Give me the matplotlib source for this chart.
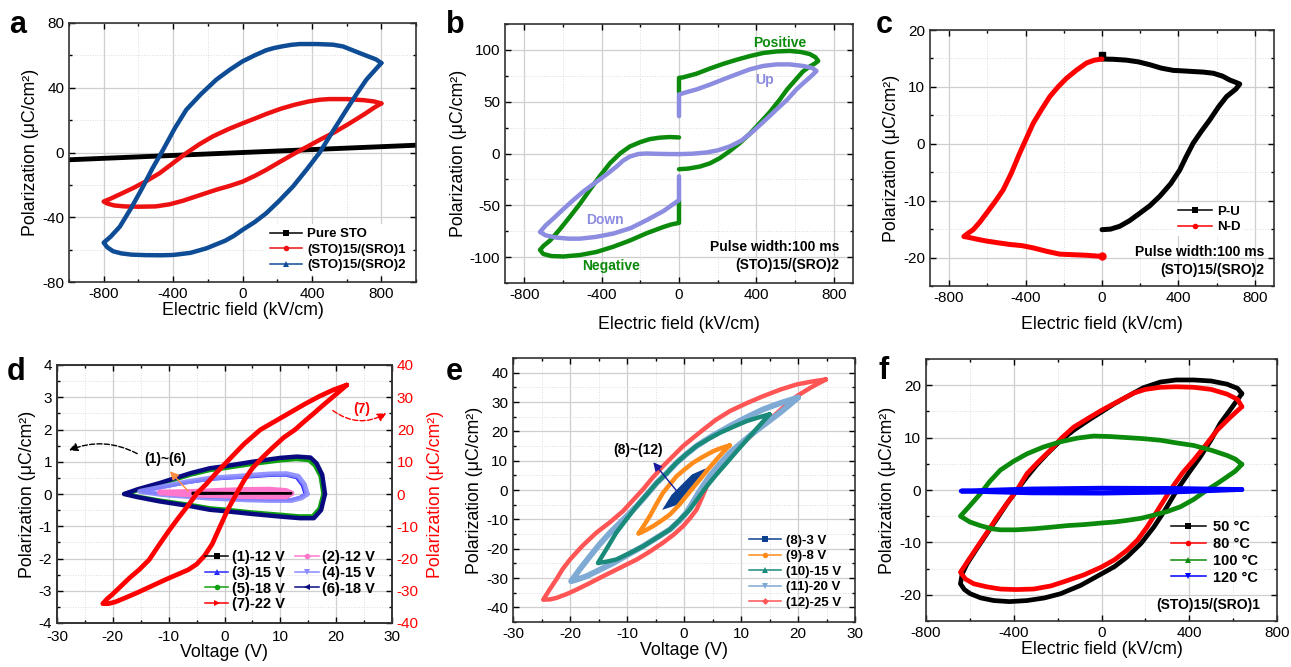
import matplotlib
matplotlib.use("Agg")
import matplotlib.pyplot as plt
from matplotlib.ticker import MultipleLocator
from matplotlib.lines import Line2D
from matplotlib.patches import FancyArrowPatch

plt.rcParams['font.family'] = ['Liberation Sans', 'DejaVu Sans']
plt.rcParams['axes.unicode_minus'] = False

# ---------------- data ----------------
# panel a
A_STO_E = [-1000, 1000]
A_STO_P = [-4.5, 4.5]
A_SRO1_E = [800, 760, 700, 600, 500, 445, 380, 300, 220, 137, 60, 0, -80, -170, -250, -324, -400, -478, -560, -631, -700, -760, -800,
            -780, -740, -680, -600, -500, -420, -343, -250, -151, -70, 0, 70, 137, 220, 310, 380, 445, 530, 617, 700, 760, 800]
A_SRO1_P = [30.3, 31.5, 32.3, 33, 33, 32.6, 31.5, 29.5, 27, 23.8, 20.5, 18, 14.5, 10, 5, -0.4, -6.5, -12.8, -18, -22, -25.5, -28.5, -30.3,
            -31.5, -32.7, -33.3, -33.5, -33.3, -32, -29.8, -26.5, -23, -20.5, -18, -14.5, -10.7, -5.5, 0, 4, 7.8, 12.5, 18, 23.5, 27.8, 30.3]
A_SRO2_E = [800, 770, 714, 650, 580, 522, 430, 330, 280, 230, 180, 137, 70, 0, -75, -151, -240, -324, -390, -458, -520, -573, -640, -707, -760, -800,
            -780, -746, -700, -640, -560, -470, -400, -300, -208, -100, -50, 0, 70, 137, 210, 291, 370, 445, 520, 599, 660, 714, 760, 800]
A_SRO2_P = [55.3, 57.5, 59.8, 62.5, 65.5, 66.6, 67, 67, 66.5, 65.6, 64.5, 63.2, 60, 56.3, 51, 45, 36, 26.4, 15, 1.6, -10, -21, -34, -45.8, -52, -55.7,
            -58.5, -61, -62.3, -63.1, -63.4, -63.5, -63.3, -62, -59.2, -54.5, -51.5, -47.8, -43, -37.5, -30, -21, -10.5, 0, 13, 26.4, 36.5, 45, 50.5, 55.3]
A_LABELS = ['Pure STO', '(STO)15/(SRO)1', '(STO)15/(SRO)2']

# panel b
B_POS_E = [0, 0, 21, 90, 160, 228, 298, 366, 435, 504, 573, 630, 676, 705, 720,
           700, 676, 640, 607, 560, 521, 470, 418, 366, 314, 260, 211, 160, 108, 50, 0]
B_POS_P = [59, 73, 73.5, 77, 82, 86.5, 90.5, 94, 97, 98.5, 99, 98, 96, 93, 89.3,
           86.5, 84, 79, 72, 62, 52, 40, 29.4, 19, 10, 2, -4.5, -9.5, -12.6, -14.5, -15.2]
B_NEG_E = [0, 0, -40, -82, -168, -254, -340, -426, -512, -599, -660, -702, -719,
           -700, -667, -620, -564, -510, -461, -410, -357, -305, -254, -200, -151, -100, -47, 0]
B_NEG_P = [-45, -67, -68.5, -71, -77, -84, -90, -95, -98, -99.4, -99, -97, -93,
           -89, -84, -74, -61, -48, -35, -22, -9.4, 0, 6.8, 11, 13.9, 15.3, 15.9, 15.5]
B_UP_E = [0, 0, 45, 90, 160, 228, 298, 366, 435, 504, 573, 642, 690, 711,
          680, 640, 607, 560, 504, 445, 383, 323, 263, 200, 142, 70, 0]
B_UP_P = [36, 57, 59.5, 61.8, 66.5, 71.5, 76.5, 81.2, 84.5, 86, 86, 84.5, 82.5, 79.6,
          74, 67.5, 61.8, 52, 42.4, 32, 21.4, 12.5, 6.8, 3, 1, -0.2, -0.6]
B_DOWN_E = [0, -60, -116, -170, -210, -254, -290, -323, -370, -426, -490, -547, -600, -650, -690, -719,
            -690, -633, -570, -512, -430, -340, -250, -168, -80, 0, 0]
B_DOWN_P = [-0.6, -0.5, -0.3, 0, -0.5, -2.9, -7, -12.6, -19.5, -27.2, -36, -45, -54, -62.8, -69.5, -75.7,
            -79, -81.2, -82.2, -82.2, -80.5, -77.3, -72, -64.4, -55.5, -45, -22]

# panel c
C_PU_E = [0, 0, 60, 128, 190, 250, 310, 373, 430, 477, 530, 582, 630, 669, 700, 721,
          700, 652, 610, 564, 520, 477, 440, 407, 360, 303, 250, 198, 145, 93, 45, 0]
C_PU_P = [15.6, 14.9, 14.85, 14.7, 14.4, 13.9, 13.3, 12.9, 12.8, 12.7, 12.6, 12.4, 11.9, 11.2, 10.8, 10.5,
          9.6, 8.3, 6.5, 4.2, 2.2, 0.1, -2.3, -4.6, -7, -9.2, -10.9, -12.2, -13.5, -14.5, -15, -15.1]
C_ND_E = [0, -40, -81, -150, -221, -290, -360, -420, -482, -545, -604, -650, -691, -723,
          -700, -674, -640, -604, -560, -517, -475, -430, -395, -360, -315, -273, -230, -186, -135, -81, -40, 0]
C_ND_P = [-19.8, -19.7, -19.6, -19.5, -19.4, -18.9, -18.3, -17.9, -17.7, -17.4, -17.1, -16.8, -16.5, -16.3,
          -15.7, -15.1, -13.8, -12.2, -10.2, -8.1, -5.2, -1.6, 1, 3.6, 6.1, 8.3, 10, 11.5, 12.9, 14.2, 14.7, 14.9]

# panel d
D1_V = [-5.7, 12, -5.7]
D1_P = [0.04, 0.02, 0.0]
D2_V = [12, 11, 8, 4, 0, -4, -8, -11.6, -8, -4, 0, 4, 8, 11, 12]
D2_P = [0.02, 0.1, 0.14, 0.13, 0.11, 0.08, 0.06, 0.05, 0.0, -0.03, -0.05, -0.07, -0.08, -0.08, 0.02]
D3_V = [14.4, 13.9, 12.9, 11, 8, 4, 0, -2.6, -7, -11, -14.8, -11, -7, -2.6, 0, 4, 8, 11.8, 13.5, 14.4]
D3_P = [0, 0.27, 0.5, 0.58, 0.57, 0.52, 0.48, 0.45, 0.34, 0.21, 0.07, -0.01, -0.06, -0.11, -0.13, -0.16, -0.18, -0.18, -0.1, 0]
D4_V = [14.8, 14.3, 13.2, 11.1, 8, 4, 0, -2.6, -7, -11, -15.2, -11, -7, -2.6, 0, 4, 8, 12, 13.8, 14.8]
D4_P = [0, 0.3, 0.55, 0.63, 0.62, 0.57, 0.52, 0.49, 0.37, 0.23, 0.08, -0.02, -0.07, -0.13, -0.15, -0.18, -0.2, -0.2, -0.12, 0]
D5_V = [17.7, 17.2, 16.2, 15.1, 12.8, 10, 5, 0, -2.6, -6, -11.6, -15.3, -17.7, -15.3, -11.6, -6, -2.6, 0, 5, 10, 13.3, 15.8, 17, 17.7]
D5_P = [0, 0.55, 0.88, 1.05, 1.08, 1.04, 0.93, 0.8, 0.74, 0.6, 0.31, 0.13, 0, -0.09, -0.2, -0.34, -0.44, -0.48, -0.57, -0.64, -0.69, -0.69, -0.45, 0]
D6_V = [18, 17.5, 16.5, 15.4, 13, 10, 5, 0, -2.6, -6, -11.6, -15.5, -18, -15.5, -11.6, -6, -2.6, 0, 5, 10, 13.5, 16, 17.3, 18]
D6_P = [0, 0.6, 0.95, 1.13, 1.16, 1.12, 1.0, 0.86, 0.8, 0.65, 0.34, 0.15, 0, -0.1, -0.23, -0.38, -0.49, -0.53, -0.62, -0.7, -0.75, -0.75, -0.5, 0]
D7_V = [21.9, 19.5, 17, 14.5, 12, 9, 6.4, 3.5, 1, -1.5, -3.3, -4.9, -6.5, -8.3, -10, -11.8, -13.5, -15.3, -17, -18.5, -20, -21, -21.8,
        -20.8, -19.6, -17.5, -15.5, -13, -10.5, -8.5, -6.5, -5, -3.6, -2.2, -0.9, 0.6, 2.2, 3.6, 5, 6.9, 8.7, 10.6, 12.6, 14.3, 16, 17.5, 19, 20.5, 21.9]
D7_P = [33.8, 32.3, 30.3, 28, 25.5, 22.5, 19.9, 15.5, 11, 6.5, 3, 0.26, -3.5, -7.5, -11.5, -16, -20.4, -23.5, -26, -28.5, -31, -32.5, -34,
        -34, -33.5, -32, -30.5, -28.5, -26.5, -25, -23.5, -21.8, -19.2, -15.5, -10.5, -4.8, 0.26, 4.5, 8, 11.5, 14.5, 17.5, 19.9, 22.5, 25, 27.3, 29.5, 31.7, 33.8]
D_LABELS = ['(1)-12 V', '(2)-12 V', '(3)-15 V', '(4)-15 V', '(5)-18 V', '(6)-18 V', '(7)-22 V']

# panel e
E8_V = [3, 1.6, -0.15, -1.9, -3, -1.3, 0.4, 2.2, 3]
E8_P = [5.9, 4.7, 1.3, -2.1, -5.5, -4.4, -1, 3, 5.9]
E9_V = [8, 6.5, 5.1, 3.3, 1.6, 0.1, -1.3, -2.5, -3.7, -4.9, -6, -7, -8,
        -6.8, -5.4, -4, -2.5, -1, 0.4, 1.6, 2.8, 4.2, 5.7, 6.9, 8]
E9_P = [15.2, 14.3, 13.2, 11.3, 9.3, 7, 4.7, 1.9, -1, -5, -8.9, -12, -14.9,
        -13.8, -12.3, -10.5, -8.4, -5.4, -2.1, 0.8, 3.6, 7, 10.4, 13, 15.2]
E10_V = [15, 13, 11, 8.6, 6.3, 4.2, 2.2, 0.4, -1.3, -3, -4.8, -6.5, -8.3, -10.1, -11.9, -13.5, -15.1,
         -13.5, -11.9, -9.5, -7.2, -4.8, -2.5, -0.7, 1, 2.5, 4, 5.7, 7.5, 9.5, 11.6, 13.3, 15]
E10_P = [25.8, 24.7, 23.5, 21.5, 19.5, 17.3, 15, 12.2, 9.3, 5.8, 2.4, -1.5, -5.5, -10, -14.6, -19.8, -24.9,
         -24.4, -23.7, -21.5, -19.2, -16.3, -13.5, -10.1, -6.7, -2.7, 1.3, 5.3, 9.3, 13.8, 18.4, 22.1, 25.8]
E11_V = [20, 17, 13.9, 11, 8.05, 5, 2.2, 0.4, -1.3, -3, -4.8, -6.5, -8.3, -10.6, -13, -14.8, -16.5, -18.2, -19.8,
         -18.6, -17.1, -14.8, -12.4, -9.8, -7.2, -4.8, -2.5, -0.9, 0.4, 1.3, 2.2, 3.3, 4.5, 6.2, 8.05, 10.1, 12.2, 14.5, 16.8, 18.5, 20]
E11_P = [31.5, 29.7, 27.5, 24.8, 21.8, 18.5, 15, 12.2, 9.3, 5.8, 2.4, -1.5, -5.5, -10, -14.6, -18.5, -22.6, -26.8, -31.1,
         -30.4, -29.4, -27.2, -24.9, -22, -19.2, -16.3, -13.5, -10.7, -7.8, -5, -2.1, 1.3, 4.7, 8.7, 12.7, 16.1, 19.5, 22.9, 26.3, 29, 31.5]
E12_V = [24.9, 22.5, 19.8, 17, 13.9, 11, 8.05, 5.5, 3.4, 1.6, -0.15, -1.9, -3.7, -5.5, -7.2, -9, -10.7, -13, -15.4, -17.8, -20, -21.3, -22.4, -23.6, -24.7,
         -23.5, -22.4, -20.6, -18.9, -16.5, -14.2, -11.2, -8.3, -6, -3.7, -1.8, -0.15, 1.1, 2.2, 3.1, 4, 5.3, 6.9, 8.8, 11, 13.3, 15.7, 17.8, 19.8, 22.3, 24.9]
E12_P = [37.7, 37, 36, 34.3, 32, 29.6, 26.9, 23.8, 20.6, 17.8, 15, 11.6, 8.1, 4.2, 0.2, -3.6, -7.2, -11, -14.6, -19, -23.7, -27, -30.5, -34, -37.4,
         -37.3, -36.8, -35.5, -34, -31.7, -29.4, -26.5, -23.7, -21, -18, -15.2, -12.3, -9.5, -6.7, -2.8, 1.3, 5.5, 9.3, 13.3, 17.2, 21.2, 25.2, 28.8, 32, 35, 37.7]
E_LABELS = ['(8)-3 V', '(9)-8 V', '(10)-15 V', '(11)-20 V', '(12)-25 V']

# panel f
F50_E = [640, 620, 572, 500, 420, 340, 268, 190, 116, 60, 0, -60, -127, -190, -248, -295, -340, -385, -431, -475, -522, -570, -613, -635, -643,
         -625, -598, -550, -491, -420, -340, -260, -187, -95, 0, 60, 116, 180, 238, 290, 344, 400, 450, 500, 541, 590, 640]
F50_P = [18.4, 19.4, 20.2, 20.8, 21, 21, 20.6, 19.5, 17.8, 16.5, 14.9, 13.3, 11.4, 9.3, 6.9, 4.8, 2.5, 0, -2.6, -5.4, -8.3, -11.3, -14.1, -16, -17.9,
         -19, -19.8, -20.6, -21.1, -21.3, -21.1, -20.6, -19.8, -18.2, -16, -14.6, -12.8, -10.2, -7.1, -3.8, 0, 3.4, 6.3, 9.6, 12.7, 15.5, 18.4]
F80_E = [640, 620, 572, 500, 420, 340, 268, 200, 147, 80, 0, -60, -127, -180, -233, -290, -340, -385, -430, -476, -520, -567, -610, -643,
         -620, -582, -520, -461, -390, -309, -230, -157, -80, 0, 60, 116, 165, 207, 260, 314, 370, 420, 470, 527, 585, 640]
F80_P = [15.9, 17.3, 18.3, 19.2, 19.6, 19.7, 19.6, 19.2, 18.5, 17, 15.2, 13.7, 12, 10, 7.6, 5.3, 3.1, 0, -2.5, -5.2, -8, -10.9, -13.6, -15.7,
         -17, -17.9, -18.5, -18.9, -19, -18.9, -18.3, -17.3, -16.2, -14.7, -13.3, -11.5, -9.5, -7.1, -3.6, 0, 3.3, 5.7, 8.3, 11.4, 13.8, 15.9]
F100_E = [640, 610, 572, 500, 420, 340, 268, 190, 116, 40, -36, -110, -187, -265, -340, -400, -461, -510, -552, -600, -643,
          -600, -552, -500, -461, -390, -309, -230, -157, -80, 0, 60, 116, 180, 238, 300, 360, 420, 481, 530, 572, 610, 640]
F100_P = [4.9, 5.9, 6.6, 7.6, 8.5, 9, 9.5, 9.8, 10, 10.2, 10.3, 9.9, 9.2, 8.2, 6.9, 5.5, 3.8, 1.6, -0.7, -3, -5,
          -6.1, -6.8, -7.4, -7.6, -7.6, -7.4, -7.1, -6.8, -6.6, -6.3, -6.1, -5.8, -5.4, -4.8, -4.1, -3.2, -1.8, 0, 1.3, 2.5, 3.6, 4.9]
F120_E = [640, 320, 0, -320, -640, -320, 0, 320, 640]
F120_P = [0.1, 0.3, 0.35, 0.2, -0.2, -0.55, -0.6, -0.4, 0.1]
F_LABELS = ['50 \u00b0C', '80 \u00b0C', '100 \u00b0C', '120 \u00b0C']

# ---------------- figure ----------------
W, H = 1291, 667
fig = plt.figure(figsize=(W / 100, H / 100), dpi=100)


def add_axes(l, r, t, b):
    return fig.add_axes([l / W, 1 - b / H, (r - l) / W, (b - t) / H])


TICK_FS = 11
LAB_FS = 12.8
LEG = {'weight': 'bold', 'size': 9.5}
YLAB = 'Polarization (\u03bcC/cm\u00b2)'


def style(ax, xlim, ylim, xmaj, xmin, ymaj, ymin, right=True):
    ax.set_xlim(*xlim)
    ax.set_ylim(*ylim)
    ax.xaxis.set_major_locator(MultipleLocator(xmaj))
    ax.xaxis.set_minor_locator(MultipleLocator(xmin))
    ax.yaxis.set_major_locator(MultipleLocator(ymaj))
    ax.yaxis.set_minor_locator(MultipleLocator(ymin))
    ax.grid(True, which='major', color='#cfcfcf', lw=0.9)
    ax.grid(True, which='minor', color='#dcdcdc', lw=0.7, ls=':')
    ax.set_axisbelow(True)
    ax.tick_params(which='both', direction='in', top=True, right=right,
                   labelsize=TICK_FS, width=1.0)
    ax.tick_params(which='major', length=4)
    ax.tick_params(which='minor', length=2)
    for s in ax.spines.values():
        s.set_linewidth(1.2)
        s.set_color('#333333')


def letter(x, y, s):
    fig.text(x / W, 1 - y / H, s, fontsize=22, fontweight='bold', va='baseline', ha='left')


def handle(c, m, ms=4):
    return Line2D([], [], color=c, lw=1.1, marker=m, ms=ms, markeredgewidth=0)


LOOP = dict(solid_joinstyle='round', solid_capstyle='round')

# ---- panel a ----
ax = add_axes(69, 416, 23, 282)
style(ax, (-1000, 1000), (-80, 80), 400, 200, 40, 20)
ca = ['black', '#ee1111', '#0f4c96']
ax.plot(A_STO_E, A_STO_P, color=ca[0], lw=3.5)
ax.plot(A_SRO1_E, A_SRO1_P, color=ca[1], lw=3.2, **LOOP)
ax.plot(A_SRO2_E, A_SRO2_P, color=ca[2], lw=3.2, **LOOP)
ax.set_xlabel('Electric field (kV/cm)', fontsize=LAB_FS, labelpad=1)
ax.set_ylabel(YLAB, fontsize=LAB_FS, labelpad=2)
ax.legend([handle(ca[0], 's'), handle(ca[1], 'o'), handle(ca[2], '^')], A_LABELS,
          loc='lower right', bbox_to_anchor=(1.0, 0.0), prop=LEG, frameon=True,
          facecolor='white', edgecolor='none', framealpha=1, handlelength=2.4,
          handletextpad=0.4, labelspacing=0.25, borderpad=0.3)
letter(9, 33, 'a')

# ---- panel b ----
ax = add_axes(505, 853, 24, 283)
style(ax, (-900, 900), (-125, 125), 400, 200, 50, 25)
cg, cp = '#0b8a0b', '#8c8ce0'
ax.plot(B_POS_E, B_POS_P, color=cg, lw=3.2, **LOOP)
ax.plot(B_NEG_E, B_NEG_P, color=cg, lw=3.2, **LOOP)
ax.plot(B_UP_E, B_UP_P, color=cp, lw=3.2, **LOOP)
ax.plot(B_DOWN_E, B_DOWN_P, color=cp, lw=3.2, **LOOP)
ax.text(521, 107, 'Positive', color=cg, fontsize=10, fontweight='bold', ha='center', va='center')
ax.text(443, 70.5, 'Up', color=cp, fontsize=10, fontweight='bold', ha='center', va='center')
ax.text(-383, -64.4, 'Down', color=cp, fontsize=10, fontweight='bold', ha='center', va='center')
ax.text(-352, -108.7, 'Negative', color=cg, fontsize=10, fontweight='bold', ha='center', va='center')
ax.text(0.96, 0.139, 'Pulse width:100 ms', transform=ax.transAxes, fontsize=10,
        fontweight='bold', ha='right', va='center')
ax.text(0.96, 0.069, '(STO)15/(SRO)2', transform=ax.transAxes, fontsize=10,
        fontweight='bold', ha='right', va='center')
ax.set_xlabel('Electric field (kV/cm)', fontsize=LAB_FS, labelpad=10)
ax.set_ylabel(YLAB, fontsize=LAB_FS, labelpad=2)
letter(446, 33, 'b')

# ---- panel c ----
ax = add_axes(930, 1274, 30, 286)
style(ax, (-900, 900), (-25, 20), 400, 200, 10, 5)
ax.plot(C_PU_E, C_PU_P, color='black', lw=3.6, marker='s', ms=5, markevery=[0], **LOOP)
ax.plot(C_ND_E, C_ND_P, color='#ff0000', lw=3.6, marker='o', ms=5, markevery=[0], **LOOP)
ax.legend([handle('black', 's'), handle('#ff0000', 'o')], ['P-U', 'N-D'],
          loc='lower right', bbox_to_anchor=(0.93, 0.17), prop=LEG, frameon=True,
          facecolor='white', edgecolor='none', framealpha=1, handlelength=2.6,
          handletextpad=0.4, labelspacing=0.25, borderpad=0.2)
ax.text(0.971, 0.133, 'Pulse width:100 ms', transform=ax.transAxes, fontsize=10,
        fontweight='bold', ha='right', va='center')
ax.text(0.971, 0.0625, '(STO)15/(SRO)2', transform=ax.transAxes, fontsize=10,
        fontweight='bold', ha='right', va='center')
ax.set_xlabel('Electric field (kV/cm)', fontsize=LAB_FS, labelpad=8)
ax.set_ylabel(YLAB, fontsize=LAB_FS, labelpad=2)
letter(876, 33, 'c')

# ---- panel d ----
ax = add_axes(57, 392, 365, 623)
style(ax, (-30, 30), (-4, 4), 10, 5, 1, 0.5, right=False)
ax.tick_params(axis='x', pad=5)
cd = ['black', '#ff77cc', '#2a2aff', '#8a8aff', '#10a010', '#0a0a80', '#ff0000']
ax.plot(D1_V, D1_P, color=cd[0], lw=1.5, zorder=5)
ax.plot(D2_V, D2_P, color=cd[1], lw=4, zorder=4, **LOOP)
ax.plot(D3_V, D3_P, color=cd[2], lw=2.0, zorder=3, **LOOP)
ax.plot(D4_V, D4_P, color=cd[3], lw=3.6, zorder=3, alpha=0.9, **LOOP)
ax.plot(D5_V, D5_P, color=cd[4], lw=3.0, zorder=2, **LOOP)
ax.plot(D6_V, D6_P, color=cd[5], lw=3.2, zorder=2, **LOOP)
ax.set_xlabel('Voltage (V)', fontsize=LAB_FS, labelpad=0)
ax.set_ylabel(YLAB, fontsize=LAB_FS, labelpad=2)
ax2 = ax.twinx()
ax2.set_ylim(-40, 40)
ax2.yaxis.set_major_locator(MultipleLocator(10))
ax2.yaxis.set_minor_locator(MultipleLocator(5))
ax2.tick_params(which='both', direction='in', labelsize=TICK_FS, labelcolor='#ff0000', width=1.0)
ax2.tick_params(which='major', length=4)
ax2.tick_params(which='minor', length=2)
for s in ax2.spines.values():
    s.set_linewidth(1.2)
    s.set_color('#333333')
ax2.plot(D7_V, D7_P, color=cd[6], lw=3.4, **LOOP)
ax2.set_ylabel(YLAB, fontsize=LAB_FS, color='#ff0000', labelpad=6)
ax.text(-10.7, 1.1, '(1)~(6)', fontsize=10, fontweight='bold', ha='center', va='center', zorder=6)
ax.add_patch(FancyArrowPatch((-15.2, 1.21), (-28.3, 1.32), connectionstyle='arc3,rad=0.25',
                             arrowstyle='-|>,head_length=5,head_width=2.5', ls='--', lw=1.0,
                             color='black', zorder=6))
ax.add_patch(FancyArrowPatch((-6.2, 0.03), (-10.1, 0.77), arrowstyle='-|>,head_length=5,head_width=2.5',
                             lw=1.0, color='#ff8c40', zorder=6))
ax2.text(24.6, 26.4, '(7)', color='#ff0000', fontsize=10, fontweight='bold', ha='center', va='center')
ax2.add_patch(FancyArrowPatch((19.0, 26.4), (29.4, 25.5), connectionstyle='arc3,rad=0.35',
                              arrowstyle='-|>,head_length=5,head_width=2.5', ls='--', lw=1.0,
                              color='#ff0000', zorder=6))
dh = [handle(cd[0], 's'), handle(cd[2], '^'), handle(cd[4], 'o'), handle(cd[6], '>'),
      handle(cd[1], 'o'), handle(cd[3], 'v'), handle(cd[5], '<')]
dl = [D_LABELS[0], D_LABELS[2], D_LABELS[4], D_LABELS[6], D_LABELS[1], D_LABELS[3], D_LABELS[5]]
ax2.legend(dh, dl, ncol=2, loc='lower right', bbox_to_anchor=(0.985, 0.0),
           prop={'weight': 'bold', 'size': 10.5},
           frameon=False, handlelength=1.6, handletextpad=0.25, labelspacing=0.12,
           columnspacing=0.7, borderpad=0.3)
letter(7, 380, 'd')

# ---- panel e ----
ax = add_axes(513, 855, 358, 622)
style(ax, (-30, 30), (-45, 45), 10, 5, 10, 5)
ce = ['#0d3f8f', '#ff8c1a', '#1a8a7a', '#7eaad4', '#ff5555']
ax.plot(E12_V, E12_P, color=ce[4], lw=3.2, **LOOP)
ax.plot(E11_V, E11_P, color=ce[3], lw=4.2, **LOOP)
ax.plot(E10_V, E10_P, color=ce[2], lw=3.2, **LOOP)
ax.plot(E9_V, E9_P, color=ce[1], lw=3.2, **LOOP)
ax.fill(E8_V, E8_P, color=ce[0], lw=3, ec=ce[0])
ax.add_patch(FancyArrowPatch((-1, -1), (-5.7, 10.2), arrowstyle='-|>,head_length=5,head_width=2.5',
                             lw=1.0, color='#1a1aa0', zorder=6))
ax.text(-8, 13.6, '(8)~(12)', fontsize=10, fontweight='bold', ha='center', va='center')
ax.legend([handle(ce[0], 's'), handle(ce[1], 'o'), handle(ce[2], '^'), handle(ce[3], 'v'),
           handle(ce[4], 'D', 3.5)], E_LABELS, loc='lower right', bbox_to_anchor=(0.99, 0.01),
          prop=LEG, frameon=False, handlelength=2.4, handletextpad=0.4, labelspacing=0.25,
          borderpad=0.3)
ax.set_xlabel('Voltage (V)', fontsize=LAB_FS, labelpad=1)
ax.set_ylabel(YLAB, fontsize=LAB_FS, labelpad=2)
letter(446, 380, 'e')

# ---- panel f ----
ax = add_axes(926, 1277, 359, 621)
style(ax, (-800, 800), (-25, 25), 400, 200, 10, 5)
cf = ['black', '#ff0000', '#0b8a0b', '#0000ff']
ax.plot(F50_E, F50_P, color=cf[0], lw=3.4, **LOOP)
ax.plot(F80_E, F80_P, color=cf[1], lw=3.4, **LOOP)
ax.plot(F100_E, F100_P, color=cf[2], lw=3.4, **LOOP)
ax.plot(F120_E, F120_P, color=cf[3], lw=3.4, **LOOP)
ax.legend([handle(cf[0], 's'), handle(cf[1], 'o'), handle(cf[2], '^'), handle(cf[3], 'v')],
          F_LABELS, loc='lower right', bbox_to_anchor=(0.975, 0.1), prop={'weight': 'bold', 'size': 10.5},
          frameon=False, handlelength=2.4, handletextpad=0.5, labelspacing=0.2, borderpad=0.2)
ax.text(0.952, 0.061, '(STO)15/(SRO)1', transform=ax.transAxes, fontsize=10,
        fontweight='bold', ha='right', va='center')
ax.set_xlabel('Electric field (kV/cm)', fontsize=LAB_FS, labelpad=1)
ax.set_ylabel(YLAB, fontsize=LAB_FS, labelpad=2)
letter(879, 379, 'f')

fig.savefig('out.png', dpi=100)
